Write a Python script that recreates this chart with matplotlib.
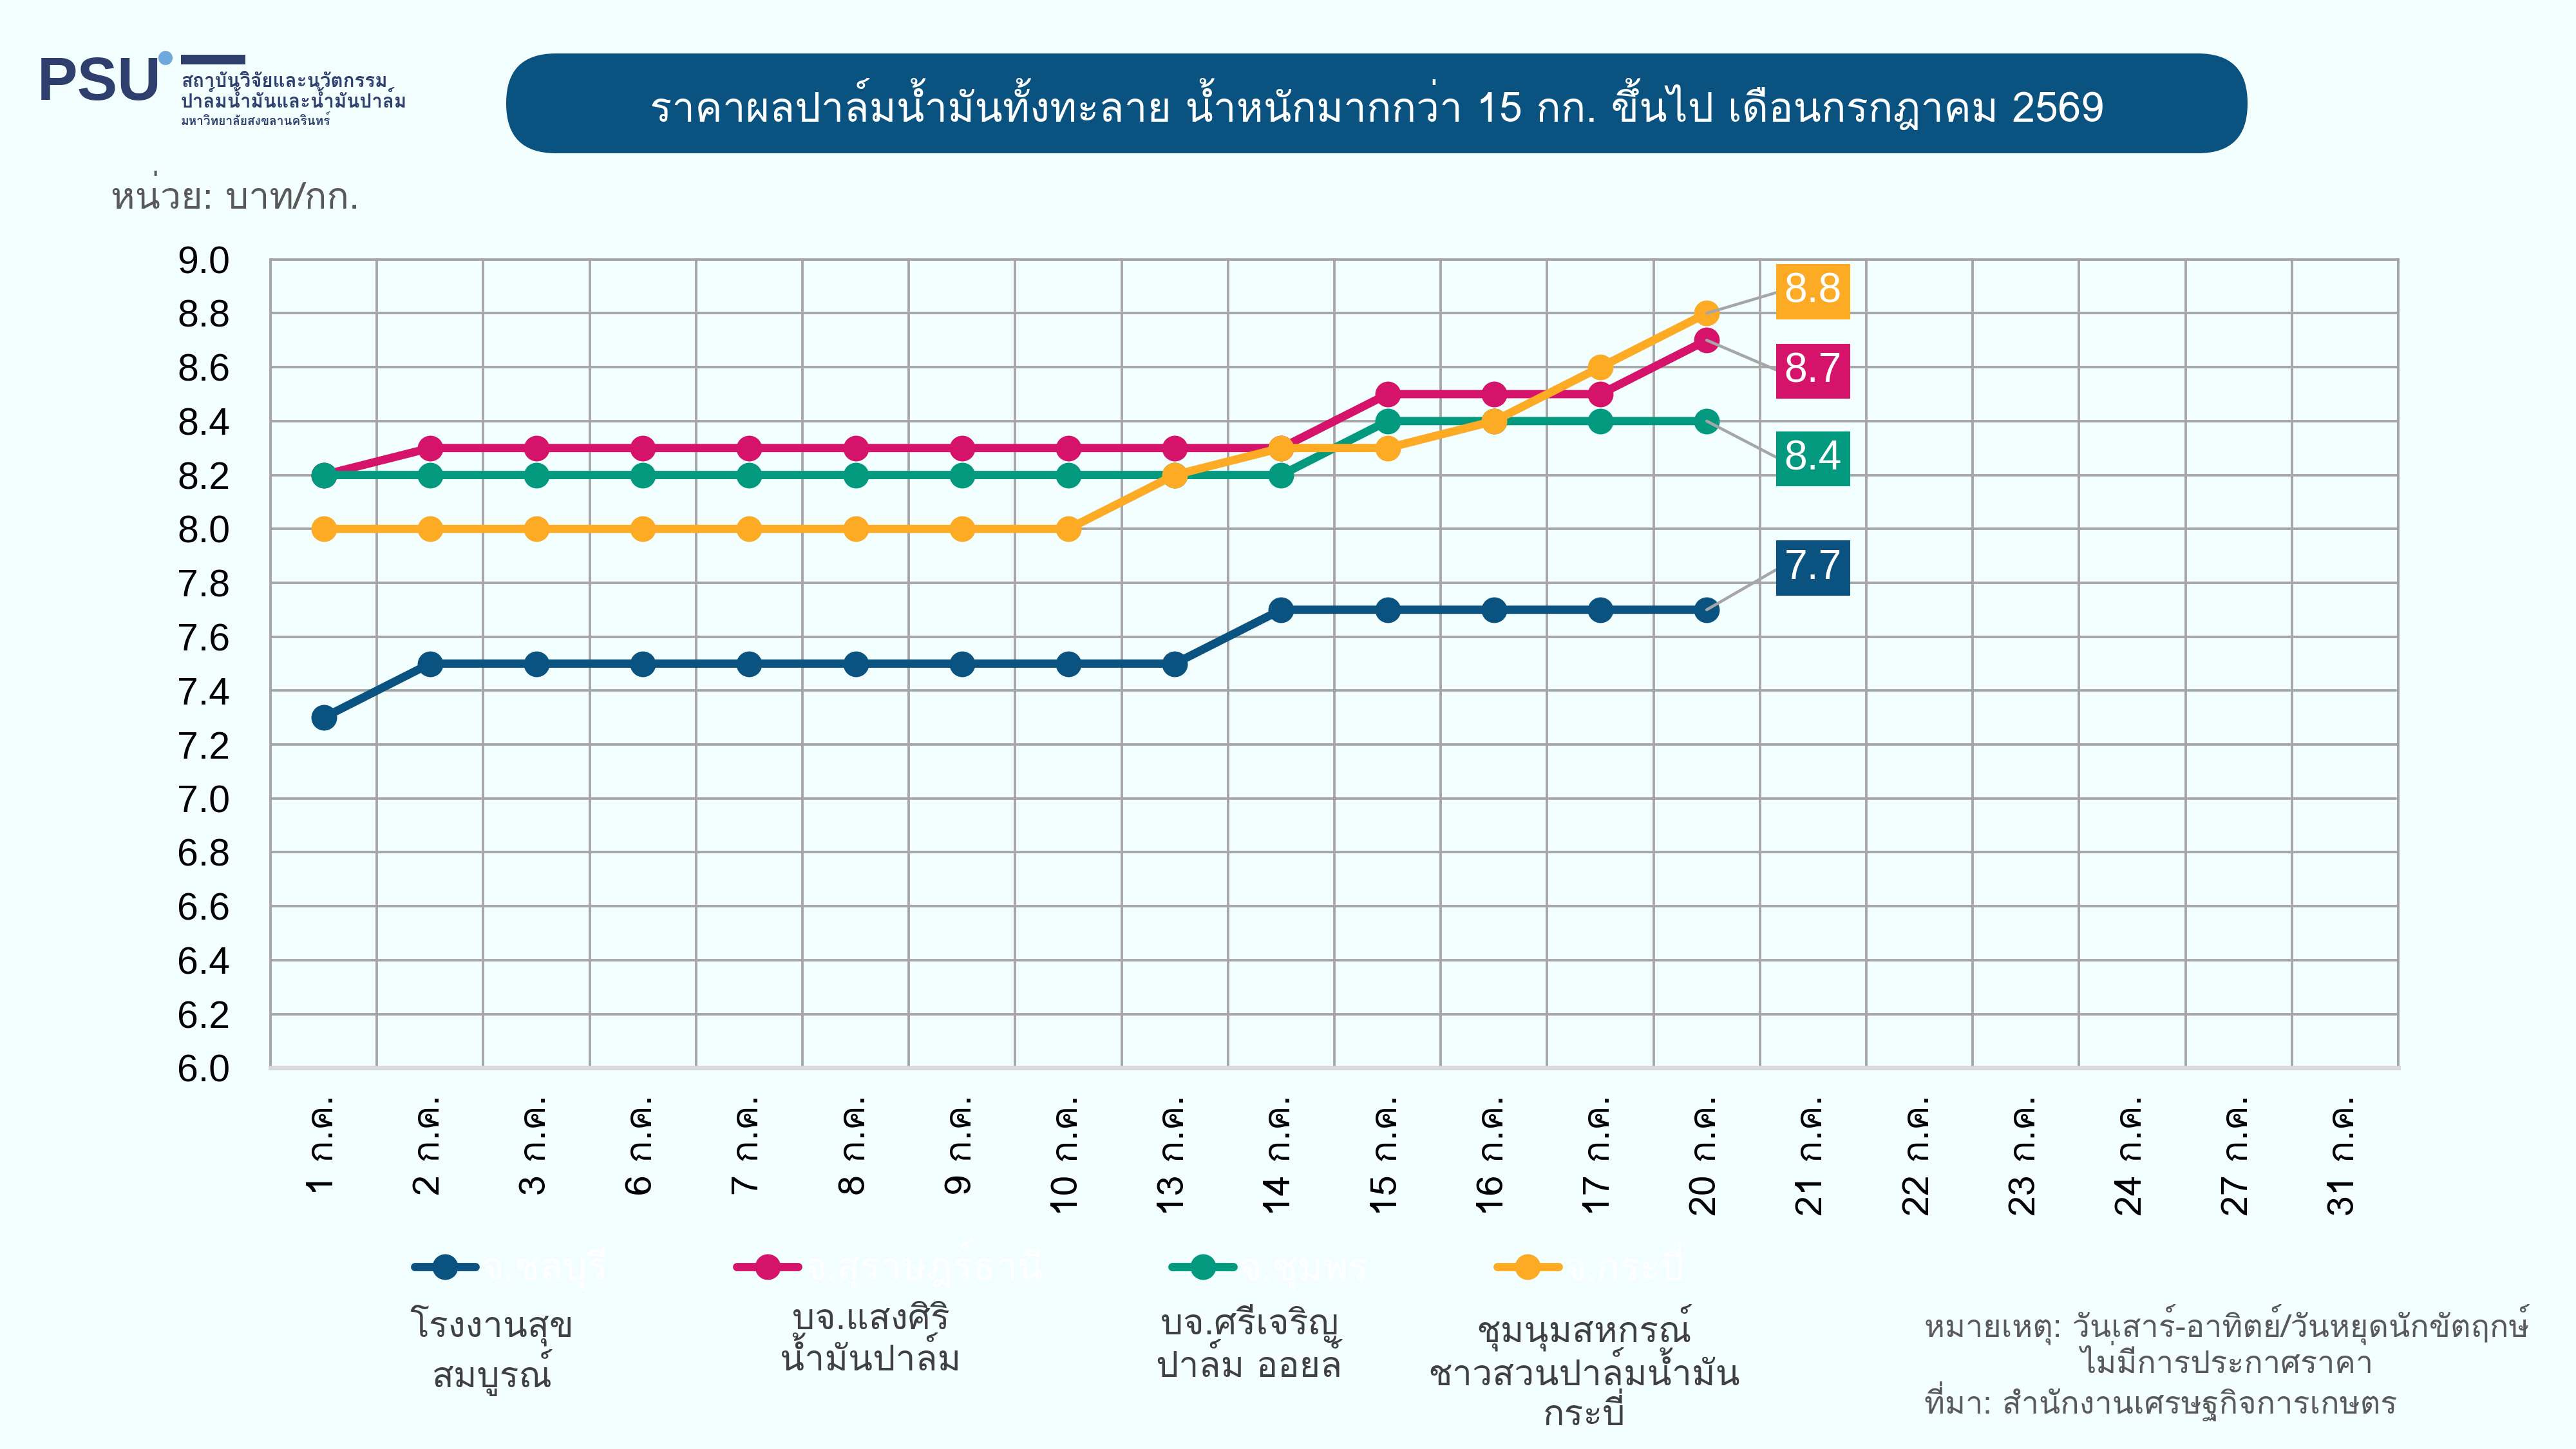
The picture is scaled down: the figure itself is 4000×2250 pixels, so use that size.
import numpy as np
import matplotlib
matplotlib.use("Agg")
import matplotlib.pyplot as plt
from matplotlib import font_manager
from matplotlib.font_manager import FontProperties
from matplotlib.ft2font import FT2Font
from matplotlib.patches import FancyBboxPatch, Rectangle, Circle
from matplotlib.transforms import IdentityTransform

# --- data ---
dates = ["1 ก.ค.", "2 ก.ค.", "3 ก.ค.", "6 ก.ค.", "7 ก.ค.", "8 ก.ค.", "9 ก.ค.",
         "10 ก.ค.", "13 ก.ค.", "14 ก.ค.", "15 ก.ค.", "16 ก.ค.", "17 ก.ค.",
         "20 ก.ค.", "21 ก.ค.", "22 ก.ค.", "23 ก.ค.", "24 ก.ค.", "27 ก.ค.", "31 ก.ค."]

chonburi = [7.3, 7.5, 7.5, 7.5, 7.5, 7.5, 7.5, 7.5, 7.5, 7.7, 7.7, 7.7, 7.7, 7.7]
surat = [8.2, 8.3, 8.3, 8.3, 8.3, 8.3, 8.3, 8.3, 8.3, 8.3, 8.5, 8.5, 8.5, 8.7]
chumphon = [8.2, 8.2, 8.2, 8.2, 8.2, 8.2, 8.2, 8.2, 8.2, 8.2, 8.4, 8.4, 8.4, 8.4]
krabi = [8.0, 8.0, 8.0, 8.0, 8.0, 8.0, 8.0, 8.0, 8.2, 8.3, 8.3, 8.4, 8.6, 8.8]

provinces = ["จ.ชลบุรี", "จ.สุราษฎร์ธานี", "จ.ชุมพร", "จ.กระบี่"]
buyers = ["โรงงานสุข\nสมบูรณ์", "บจ.แสงศิริ\nน้ำมันปาล์ม",
          "บจ.ศรีเจริญ\nปาล์ม ออยล์", "ชุมนุมสหกรณ์\nชาวสวนปาล์มน้ำมัน\nกระบี่"]
colors = ["#0A5280", "#D5136A", "#02997F", "#FDAA25"]

title = "ราคาผลปาล์มน้ำมันทั้งทะลาย น้ำหนักมากกว่า 15 กก. ขึ้นไป เดือนกรกฎาคม 2569"
unit = "หน่วย: บาท/กก."
note = "หมายเหตุ: วันเสาร์-อาทิตย์/วันหยุดนักขัตฤกษ์\nไม่มีการประกาศราคา"
source = "ที่มา: สำนักงานเศรษฐกิจการเกษตร"

# label box y positions for last values (blue, magenta, teal, orange)
label_y = [7.855, 8.585, 8.26, 8.88]


def thai_file(weight):
    # pick one Thai font file in a fixed way so every run looks the same
    files = []
    for f in font_manager.fontManager.ttflist:
        if f.style != "normal":
            continue
        try:
            if 0x0E01 not in FT2Font(f.fname).get_charmap():
                continue
        except Exception:
            continue
        files.append((f.name, f.weight, f.fname))
    for name in ["Loma", "Anuphan", "Athiti", "Bai Jamjuree"]:
        hits = sorted(p for n, w, p in files if n == name and w == weight)
        if hits:
            return hits[0]
    hits = sorted(p for n, w, p in files)
    return hits[0] if hits else None


reg_file = thai_file(400)
bold_file = thai_file(700) or reg_file


def th(size, bold=False):
    path = bold_file if bold else reg_file
    if path is None:
        return FontProperties(family="DejaVu Sans", size=size)
    return FontProperties(fname=path, size=size)


num_fp = FontProperties(family="Liberation Sans", size=17)

bg = "#F3FFFE"
grid_c = "#A6A6A6"

fig = plt.figure(figsize=(16, 9), dpi=250, facecolor=bg)
ax = fig.add_axes([0.105, 0.263, 0.826, 0.558], facecolor=bg)

x = np.arange(len(dates))
series = [chonburi, surat, chumphon, krabi]
for vals, col, name in zip(series, colors, provinces):
    ax.plot(x[:len(vals)], vals, color=col, lw=3.7, marker="o", ms=10.5,
            solid_capstyle="round", label=name, zorder=3)

for vals, col, ly in zip(series, colors, label_y):
    xi = len(vals) - 1
    ax.annotate(f"{vals[-1]:.1f}", xy=(xi, vals[-1]), xytext=(14, ly),
                ha="center", va="center", color="white",
                fontproperties=FontProperties(family="Liberation Sans", size=18.5),
                zorder=5,
                bbox=dict(boxstyle="square,pad=0.2", fc=col, ec="none"),
                arrowprops=dict(arrowstyle="-", color=grid_c, lw=1.3,
                                shrinkA=0, shrinkB=0, relpos=(0, 0.5),
                                connectionstyle="arc,angleA=180,armA=8,angleB=0,armB=0,rad=0"))

ax.set_xlim(-0.5, len(dates) - 0.5)
ax.set_ylim(6.0, 9.0)
ax.set_yticks(np.arange(6.0, 9.01, 0.2))
ax.set_yticklabels([f"{v:.1f}" for v in np.arange(6.0, 9.01, 0.2)])
for lab in ax.get_yticklabels():
    lab.set_fontproperties(num_fp)
ax.set_xticks(x)
ax.set_xticklabels(dates, rotation=90)
for lab in ax.get_xticklabels():
    lab.set_fontproperties(th(16.5))
ax.set_xticks(np.arange(-0.5, len(dates), 1), minor=True)
ax.tick_params(axis="both", which="both", length=0)
ax.tick_params(axis="y", pad=18)
ax.tick_params(axis="x", pad=12)
ax.grid(True, axis="y", which="major", color=grid_c, lw=1.1)
ax.grid(True, axis="x", which="minor", color=grid_c, lw=1.1)
ax.set_axisbelow(True)
for s in ["left", "right", "top"]:
    ax.spines[s].set_color(grid_c)
    ax.spines[s].set_linewidth(1.1)
ax.spines["bottom"].set_color("#D9D9D9")
ax.spines["bottom"].set_linewidth(2)

# legend (labels in white as in the original)
leg = fig.legend(loc="center left", bbox_to_anchor=(0.161, 0.127), ncol=4,
                 frameon=False, prop=th(17),
                 handlelength=1.6, handletextpad=0.15, columnspacing=3.4,
                 borderpad=0, borderaxespad=0)
for t in leg.get_texts():
    t.set_color("white")

buyer_x = [0.191, 0.338, 0.485, 0.615]
for bx, name in zip(buyer_x, buyers):
    fig.text(bx, 0.1, name, ha="center", va="top", fontproperties=th(16),
             color="#404040", multialignment="center", linespacing=1.1)

fig.text(0.747, 0.1, note, ha="left", va="top", fontproperties=th(14),
         color="#595959", multialignment="center", linespacing=1.1)
fig.text(0.747, 0.033, source, ha="left", va="center", fontproperties=th(14),
         color="#595959")

# title bar
bar = FancyBboxPatch((786, 2250 - 238), 2704, 155,
                     boxstyle="round,pad=0,rounding_size=77",
                     transform=IdentityTransform(), fc="#0A527F", ec="none")
fig.patches.append(bar)
fig.text(0.5345, 1 - 162 / 2250, title, ha="center", va="center",
         fontproperties=th(18.4), color="white")

fig.text(0.043, 1 - 306 / 2250, unit, ha="left", va="center",
         fontproperties=th(16.5), color="#595959")

# logo
fig.text(58 / 4000, 1 - 130 / 2250, "PSU", ha="left", va="center", fontsize=27,
         weight="bold", family=["Liberation Sans"], color="#2E3F6E")
fig.patches.append(Rectangle((281, 2250 - 100), 100, 15, transform=IdentityTransform(),
                             fc="#2E3F6E", ec="none"))
fig.patches.append(Circle((257, 2250 - 90), 11, transform=IdentityTransform(),
                          fc="#6FA8DC", ec="none"))
for yy, txt, fs in [(127, "สถาบันวิจัยและนวัตกรรม", 8.5), (157, "ปาล์มน้ำมันและน้ำมันปาล์ม", 8.5),
                    (187, "มหาวิทยาลัยสงขลานครินทร์", 5.5)]:
    fig.text(281 / 4000, 1 - yy / 2250, txt, ha="left", va="center",
             fontproperties=th(fs, bold=True), color="#2E3F6E")

fig.savefig("out.png", dpi=250, facecolor=bg)
